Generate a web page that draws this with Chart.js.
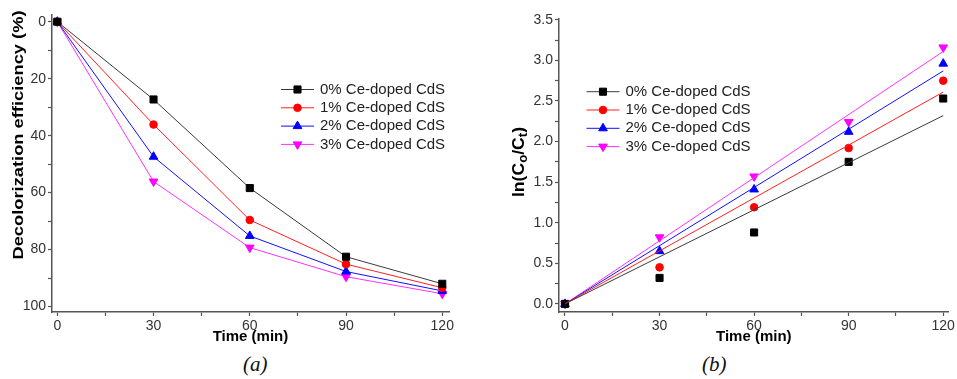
<!DOCTYPE html>
<html>
<head>
<meta charset="utf-8">
<title>Ce-doped CdS</title>
<script src="https://cdn.jsdelivr.net/npm/chart.js@4.4.0/dist/chart.umd.min.js"></script>
<style>
    body { margin: 0; background: #fff; width: 957px; height: 379px; position: relative; overflow: hidden; }
    .box { position: absolute; top: 0; }
    .cap { position: absolute; top: 352px; font: italic 21px "Liberation Serif", "Times New Roman", serif; color: #111; }
</style>
</head>
<body>
<div class="box" style="left:0"><canvas id="chartA" width="480" height="350"></canvas></div>
<div class="box" style="left:480px"><canvas id="chartB" width="477" height="350"></canvas></div>
<div class="cap" style="left:243px">(a)</div>
<div class="cap" style="left:702px">(b)</div>

<script>
    // data
    var times = [0, 30, 60, 90, 120];
    var seriesNames = ['0% Ce-doped CdS', '1% Ce-doped CdS', '2% Ce-doped CdS', '3% Ce-doped CdS'];

    // (a) decolorization efficiency (%)
    var decol0 = [0, 27.3, 58.4, 82.5, 92.0];
    var decol1 = [0, 36.1, 69.6, 85.1, 93.4];
    var decol2 = [0, 47.4, 75.2, 87.7, 94.5];
    var decol3 = [0, 56.1, 79.3, 89.5, 95.5];

    // (b) ln(C0/Ct) and the fitted lines (value at 0 and 120 min)
    var lnc0 = [0, 0.32, 0.88, 1.75, 2.53];
    var lnc1 = [0, 0.45, 1.19, 1.92, 2.75];
    var lnc2 = [0, 0.65, 1.41, 2.12, 2.96];
    var lnc3 = [0, 0.82, 1.57, 2.24, 3.16];
    var fitTimes = [0, 120];
    var fitEnds0 = [0, 2.32];
    var fitEnds1 = [0, 2.61];
    var fitEnds2 = [0, 2.87];
    var fitEnds3 = [0, 3.11];

    // tick labels
    var timeTicks = [0, 30, 60, 90, 120];
    var decolTicks = [0, 20, 40, 60, 80, 100];
    var lnTicks = [0, 0.5, 1.0, 1.5, 2.0, 2.5, 3.0, 3.5];

    // styles
    var markColors = ['#000000', '#ff0000', '#0000ff', '#ff00ff'];
    var lineColors = ['#3a3a3a', '#ff2020', '#1010ff', '#ff30ff'];
    var pointStyles = ['rect', 'circle', 'triangle', 'triangle'];
    var pointRot = [0, 0, 0, 180];
    var pointSizes = [5, 3.8, 5, 5];
    var FONT = '"Liberation Sans", Arial, sans-serif';

    function pairs(xs, ys) {
        return xs.map(function (x, i) { return {x: x, y: ys[i]}; });
    }

    function withMinors(major) {
        var out = [];
        major.forEach(function (v, i) {
            out.push(v);
            if (i < major.length - 1) out.push((v + major[i + 1]) / 2);
        });
        return out;
    }

    function setTicks(major) {
        return function (scale) {
            scale.ticks = withMinors(major).map(function (v) { return {value: v}; });
        };
    }

    function labelIf(major, fmt) {
        return function (value) {
            for (var i = 0; i < major.length; i++) {
                if (Math.abs(major[i] - value) < 1e-6) return fmt(value);
            }
            return '';
        };
    }

    var legendAt = {
        id: 'legendAt',
        afterDraw: function (chart) {
            var o = chart.options.plugins.legendAt;
            var ctx = chart.ctx;
            ctx.save();
            ctx.font = '15px ' + FONT;
            ctx.textBaseline = 'middle';
            seriesNames.forEach(function (name, i) {
                var y = o.y + i * o.dy;
                ctx.strokeStyle = lineColors[i];
                ctx.lineWidth = 1;
                ctx.beginPath();
                ctx.moveTo(o.x, y);
                ctx.lineTo(o.x + 33, y);
                ctx.stroke();
                ctx.fillStyle = markColors[i];
                ctx.strokeStyle = markColors[i];
                Chart.helpers.drawPoint(ctx, {
                    pointStyle: pointStyles[i], rotation: pointRot[i],
                    radius: pointSizes[i], borderWidth: 1
                }, o.x + 16.5, y);
                ctx.fillStyle = '#222';
                ctx.fillText(name, o.x + 39, y);
            });
            ctx.restore();
        }
    };

    // rotated y title; parts = [text, size, drop], stretch widens it along its length
    var yTitle = {
        id: 'yTitle',
        afterDraw: function (chart) {
            var o = chart.options.plugins.yTitle;
            var ctx = chart.ctx;
            ctx.save();
            ctx.translate(o.x, o.y);
            ctx.rotate(-Math.PI / 2);
            ctx.scale(o.stretch, 1);
            ctx.fillStyle = '#000';
            ctx.textBaseline = 'middle';
            var w = 0;
            o.parts.forEach(function (p) {
                ctx.font = 'bold ' + p[1] + 'px ' + FONT;
                w += ctx.measureText(p[0]).width;
            });
            var x = -w / 2;
            o.parts.forEach(function (p) {
                ctx.font = 'bold ' + p[1] + 'px ' + FONT;
                ctx.fillText(p[0], x, p[2]);
                x += ctx.measureText(p[0]).width;
            });
            ctx.restore();
        }
    };

    function axis(min, max, major, fmt, extra) {
        var s = {
            type: 'linear',
            min: min,
            max: max,
            afterBuildTicks: setTicks(major),
            border: {color: '#555', width: 1.5},
            grid: {drawOnChartArea: false, drawTicks: true, tickLength: 4, tickColor: '#555', tickWidth: 1.2},
            ticks: {
                autoSkip: false, maxRotation: 0, padding: 2,
                color: '#333', font: {family: FONT, size: 14},
                callback: labelIf(major, fmt)
            }
        };
        for (var k in extra) s[k] = extra[k];
        return s;
    }

    var timeTitle = {display: true, text: 'Time (min)', color: '#000', font: {family: FONT, size: 15, weight: 'bold'}, padding: {top: 2}};

    var decolSeries = [decol0, decol1, decol2, decol3];
    new Chart(document.getElementById('chartA'), {
        type: 'line',
        data: {
            datasets: decolSeries.map(function (vals, i) {
                return {
                    label: seriesNames[i],
                    data: pairs(times, vals),
                    borderColor: lineColors[i],
                    borderWidth: 1,
                    pointStyle: pointStyles[i],
                    rotation: pointRot[i],
                    pointRadius: pointSizes[i],
                    pointBackgroundColor: markColors[i],
                    pointBorderColor: markColors[i],
                    pointBorderWidth: 1,
                    clip: 8
                };
            })
        },
        options: {
            responsive: false,
            animation: false,
            layout: {padding: {top: 15, right: 31, left: 0, bottom: 0}},
            plugins: {
                legend: {display: false},
                tooltip: {enabled: false},
                legendAt: {x: 281, y: 89.5, dy: 18.3},
                yTitle: {x: 19, y: 135, stretch: 1.22, parts: [['Decolorization efficiency (%)', 15, 0]]}
            },
            scales: {
                x: axis(-1.65, 122.1, timeTicks, function (v) { return String(v); }, {
                    title: timeTitle,
                    afterFit: function (s) { s.height = 38; }
                }),
                y: axis(-2.35, 101.9, decolTicks, function (v) { return String(v); }, {
                    reverse: true,
                    afterFit: function (s) { s.width = 52; }
                })
            }
        },
        plugins: [legendAt, yTitle]
    });

    var lnSeries = [lnc0, lnc1, lnc2, lnc3];
    var fitSeries = [fitEnds0, fitEnds1, fitEnds2, fitEnds3];
    var bSets = [];
    fitSeries.forEach(function (vals, i) {
        bSets.push({
            label: seriesNames[i] + ' fit',
            data: pairs(fitTimes, vals),
            borderColor: lineColors[i],
            borderWidth: 1,
            pointRadius: 0,
            showLine: true
        });
    });
    lnSeries.forEach(function (vals, i) {
        bSets.push({
            label: seriesNames[i],
            data: pairs(times, vals),
            showLine: false,
            pointStyle: pointStyles[i],
            rotation: pointRot[i],
            pointRadius: pointSizes[i],
            pointBackgroundColor: markColors[i],
            pointBorderColor: markColors[i],
            pointBorderWidth: 1,
            clip: 8
        });
    });

    new Chart(document.getElementById('chartB'), {
        type: 'scatter',
        data: {datasets: bSets},
        options: {
            responsive: false,
            animation: false,
            layout: {padding: {top: 19, right: 7, left: 0, bottom: 0}},
            plugins: {
                legend: {display: false},
                tooltip: {enabled: false},
                legendAt: {x: 106.5, y: 91.7, dy: 18.3},
                yTitle: {x: 40, y: 162, stretch: 1.1, parts: [['ln(C', 16, 0], ['o', 12, 4], ['/C', 16, 0], ['t', 12, 4], [')', 16, 0]]}
            },
            scales: {
                x: axis(-1.9, 121.7, timeTicks, function (v) { return String(v); }, {
                    title: timeTitle,
                    afterFit: function (s) { s.height = 38; }
                }),
                y: axis(-0.1, 3.51, lnTicks, function (v) { return v.toFixed(1); }, {
                    afterFit: function (s) { s.width = 79; }
                })
            }
        },
        plugins: [legendAt, yTitle]
    });
</script>
</body>
</html>
